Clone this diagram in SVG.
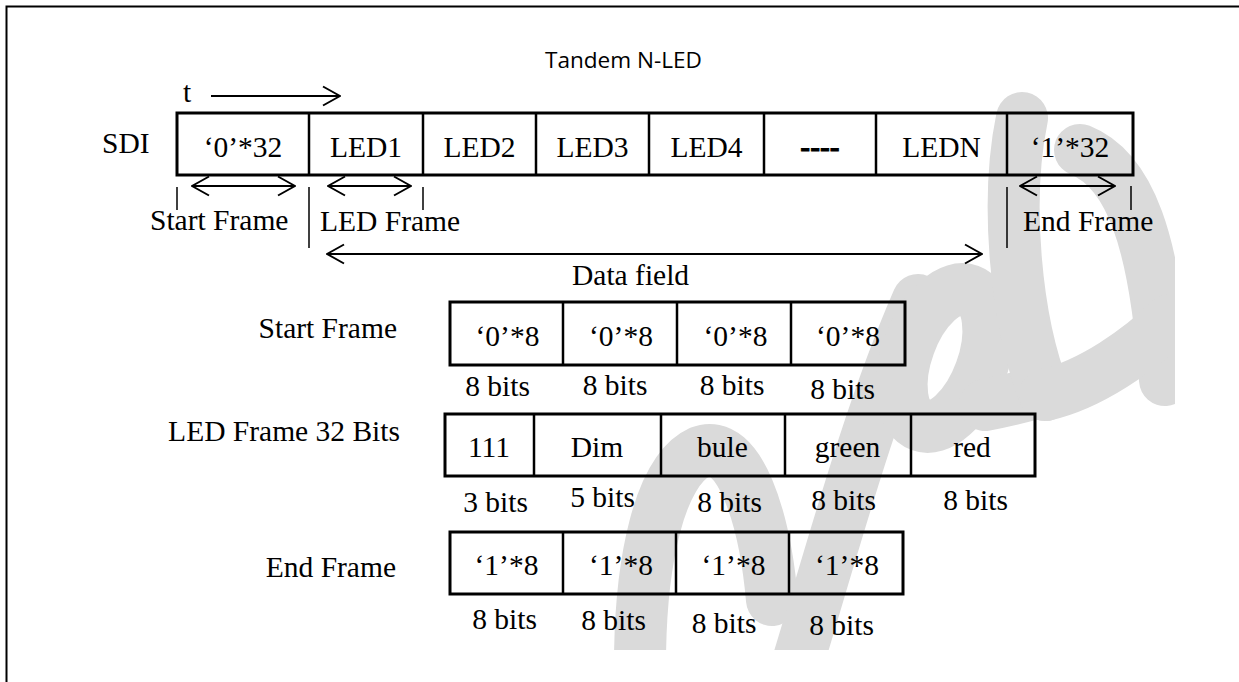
<svg xmlns="http://www.w3.org/2000/svg" width="1239" height="682" viewBox="0 0 1239 682">
<defs>
<style>
.t{font-family:"Liberation Serif","Times New Roman",serif;font-size:29.5px;fill:#000}
.c{text-anchor:middle}
.e{text-anchor:end}
.box{fill:none;stroke:#000;stroke-width:3}
.dv{stroke:#000;stroke-width:2.5}
.ln{stroke:#000;stroke-width:2;fill:none}
.tk{stroke:#000;stroke-width:1.5}
.wm{fill:none;stroke:#dadada;stroke-width:52;stroke-linecap:round;stroke-linejoin:round}
</style>
<marker id="ah" markerUnits="userSpaceOnUse" viewBox="0 0 20 22" refX="19" refY="11" markerWidth="20" markerHeight="22" orient="auto-start-reverse">
<path d="M2,1.5 L19,11 L2,20.5" fill="none" stroke="#000" stroke-width="2"/>
</marker>
<clipPath id="wmclip"><rect x="0" y="0" width="1175" height="650"/></clipPath>
</defs>
<rect x="0" y="0" width="1239" height="682" fill="#fff"/>
<g id="watermark" clip-path="url(#wmclip)">
<path class="wm" d="M640,665 C640,560 660,470 700,452 C740,436 765,520 772,600"/>
<path class="wm" d="M797,665 C835,540 870,410 918,300"/>
<ellipse class="wm" cx="945" cy="358" rx="38" ry="72" transform="rotate(20 945 358)"/>
<path class="wm" d="M985,405 C1010,400 1030,395 1045,390"/>
<path class="wm" d="M1022,118 C1005,200 1015,320 1045,395"/>
<path class="wm" d="M1080,150 C1130,170 1155,240 1165,380"/>
<path class="wm" d="M1045,395 C1090,385 1140,350 1170,320"/>
</g>
<path id="border" d="M6.5,682 V6.5 H1239" fill="none" stroke="#000" stroke-width="2"/>
<g id="title"><text x="623.5" y="68" text-anchor="middle" font-family="Open Sans, Liberation Sans, sans-serif" font-size="22.4" textLength="157" lengthAdjust="spacingAndGlyphs">Tandem N-LED</text></g>
<g id="sdi-label"><text class="t" x="102" y="153">SDI</text></g>
<g id="t-label"><text class="t" x="183" y="102">t</text></g>
<g id="sdi-row">
<rect class="box" x="177" y="113" width="956" height="62"/>
<line class="dv" x1="309" y1="113" x2="309" y2="175"/>
<line class="dv" x1="423" y1="113" x2="423" y2="175"/>
<line class="dv" x1="536" y1="113" x2="536" y2="175"/>
<line class="dv" x1="649" y1="113" x2="649" y2="175"/>
<line class="dv" x1="764" y1="113" x2="764" y2="175"/>
<line class="dv" x1="876" y1="113" x2="876" y2="175"/>
<line class="dv" x1="1007" y1="113" x2="1007" y2="175"/>
<text class="t c" x="243" y="157">‘0’*32</text>
<text class="t c" x="366" y="157">LED1</text>
<text class="t c" x="479.5" y="157">LED2</text>
<text class="t c" x="592.5" y="157">LED3</text>
<text class="t c" x="706.5" y="157">LED4</text>
<text class="t c" x="820" y="157" font-weight="bold" stroke="#000" stroke-width="0.8">----</text>
<text class="t c" x="941.5" y="157">LEDN</text>
<text class="t c" x="1070" y="157">‘1’*32</text>
</g>
<g id="connectors">
<line class="ln" x1="211" y1="96" x2="340" y2="96" marker-end="url(#ah)" stroke-width="2.5"/>
<line class="ln" x1="192" y1="186" x2="295" y2="186" marker-start="url(#ah)" marker-end="url(#ah)"/>
<line class="ln" x1="328" y1="186" x2="411" y2="186" marker-start="url(#ah)" marker-end="url(#ah)"/>
<line class="ln" x1="1020" y1="186" x2="1115" y2="186" marker-start="url(#ah)" marker-end="url(#ah)"/>
<line class="ln" x1="327" y1="254" x2="982" y2="254" marker-start="url(#ah)" marker-end="url(#ah)"/>
<line class="tk" x1="177" y1="187" x2="177" y2="210"/>
<line class="tk" x1="309" y1="187" x2="309" y2="248"/>
<line class="tk" x1="423" y1="187" x2="423" y2="210"/>
<line class="tk" x1="1007" y1="187" x2="1007" y2="248"/>
<line class="tk" x1="1131" y1="186" x2="1131" y2="210"/>
</g>
<g id="frame-labels">
<text class="t" x="150" y="230">Start Frame</text>
<text class="t" x="320" y="231">LED Frame</text>
<text class="t" x="1023" y="231">End Frame</text>
<text class="t" x="572" y="285">Data field</text>
</g>
<g id="start-frame">
<text class="t e" x="397" y="338">Start Frame</text>
<rect class="box" x="450" y="302" width="455" height="63"/>
<line class="dv" x1="563" y1="302" x2="563" y2="365"/>
<line class="dv" x1="677" y1="302" x2="677" y2="365"/>
<line class="dv" x1="791" y1="302" x2="791" y2="365"/>
<text class="t c" x="507.5" y="346">‘0’*8</text>
<text class="t c" x="621" y="346">‘0’*8</text>
<text class="t c" x="735.5" y="346">‘0’*8</text>
<text class="t c" x="848" y="346">‘0’*8</text>
<text class="t c" x="497.5" y="396">8 bits</text>
<text class="t c" x="615" y="395">8 bits</text>
<text class="t c" x="732" y="395">8 bits</text>
<text class="t c" x="842.5" y="399">8 bits</text>
</g>
<g id="led-frame">
<text class="t e" x="400" y="441">LED Frame 32 Bits</text>
<rect class="box" x="445" y="414" width="590" height="62"/>
<line class="dv" x1="534" y1="414" x2="534" y2="476"/>
<line class="dv" x1="661" y1="414" x2="661" y2="476"/>
<line class="dv" x1="785" y1="414" x2="785" y2="476"/>
<line class="dv" x1="911" y1="414" x2="911" y2="476"/>
<text class="t c" x="489" y="457">111</text>
<text class="t c" x="597" y="457">Dim</text>
<text class="t c" x="722.5" y="457">bule</text>
<text class="t c" x="847.5" y="457">green</text>
<text class="t c" x="972" y="457">red</text>
<text class="t c" x="495.5" y="512">3 bits</text>
<text class="t c" x="602.5" y="507">5 bits</text>
<text class="t c" x="729.5" y="512">8 bits</text>
<text class="t c" x="843.5" y="510">8 bits</text>
<text class="t c" x="975.5" y="510">8 bits</text>
</g>
<g id="end-frame">
<text class="t e" x="396" y="577">End Frame</text>
<rect class="box" x="450" y="532" width="453" height="62"/>
<line class="dv" x1="563" y1="532" x2="563" y2="594"/>
<line class="dv" x1="676" y1="532" x2="676" y2="594"/>
<line class="dv" x1="789" y1="532" x2="789" y2="594"/>
<text class="t c" x="506.5" y="575">‘1’*8</text>
<text class="t c" x="621" y="575">‘1’*8</text>
<text class="t c" x="733.5" y="575">‘1’*8</text>
<text class="t c" x="847" y="575">‘1’*8</text>
<text class="t c" x="504.5" y="629">8 bits</text>
<text class="t c" x="613.5" y="630">8 bits</text>
<text class="t c" x="724" y="633">8 bits</text>
<text class="t c" x="841.5" y="635">8 bits</text>
</g>
</svg>
